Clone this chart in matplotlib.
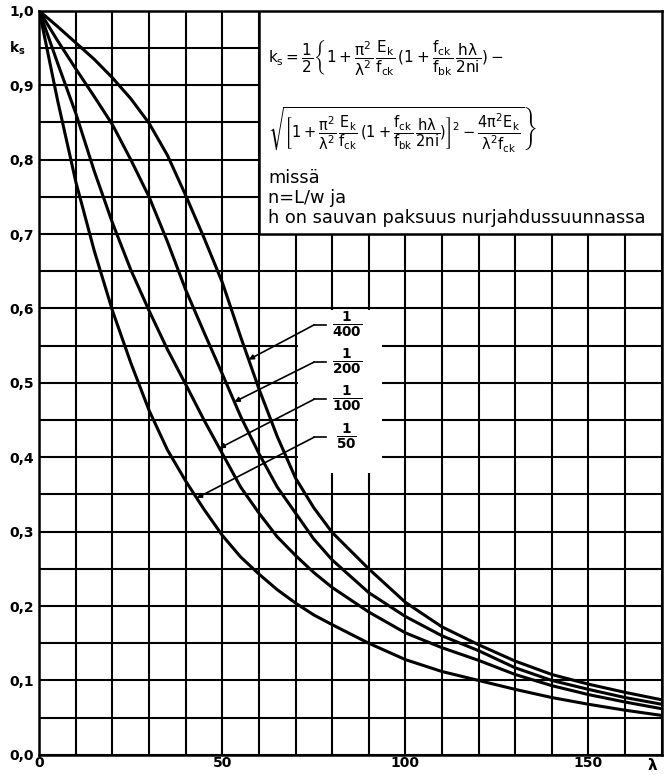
import numpy as np
import matplotlib
matplotlib.use("Agg")
import matplotlib.pyplot as plt
from matplotlib.patches import Rectangle
from matplotlib.ticker import MultipleLocator

# ==========================
# DATA
# ==========================
lam = [0, 5, 10, 15, 20, 25, 30, 35, 40, 45, 50, 55, 60, 65, 70, 75, 80,
       90, 100, 110, 120, 130, 140, 150, 160, 170]

ks_400 = [1.0, 0.979, 0.957, 0.935, 0.91, 0.882, 0.849, 0.806, 0.752, 0.695,
          0.635, 0.562, 0.492, 0.428, 0.372, 0.332, 0.299,
          0.25, 0.205, 0.172, 0.148, 0.126, 0.108, 0.095, 0.084, 0.074]
ks_200 = [1.0, 0.96, 0.922, 0.885, 0.847, 0.8, 0.75, 0.69, 0.625, 0.568,
          0.512, 0.455, 0.405, 0.36, 0.325, 0.29, 0.262,
          0.218, 0.186, 0.16, 0.14, 0.117, 0.1, 0.088, 0.077, 0.068]
ks_100 = [1.0, 0.93, 0.862, 0.785, 0.715, 0.652, 0.597, 0.545, 0.498, 0.45,
          0.405, 0.36, 0.325, 0.293, 0.268, 0.245, 0.225,
          0.192, 0.164, 0.144, 0.127, 0.108, 0.093, 0.081, 0.071, 0.062]
ks_50 = [1.0, 0.88, 0.77, 0.678, 0.597, 0.527, 0.463, 0.41, 0.368, 0.33,
         0.295, 0.266, 0.243, 0.222, 0.204, 0.188, 0.175,
         0.15, 0.128, 0.112, 0.1, 0.088, 0.077, 0.068, 0.06, 0.053]

curve_names = ["400", "200", "100", "50"]
curve_values = [ks_400, ks_200, ks_100, ks_50]

# where the leader lines touch the curves, and the label rows
tip_lam = [57.2, 53.3, 49.2, 43.0]
label_ks = [0.578, 0.528, 0.478, 0.427]

x_labels = ["0", "50", "100", "150"]
y_labels = ["0,0", "0,1", "0,2", "0,3", "0,4", "0,5", "0,6", "0,7", "0,8", "0,9", "1,0"]

# ==========================
# FIGURE
# ==========================
plt.rcParams["mathtext.fontset"] = "dejavusans"
plt.rcParams["mathtext.default"] = "regular"

fig = plt.figure(figsize=(6.65, 7.75), dpi=100)
ax = fig.add_axes([0.059, 0.026, 0.936, 0.960])

ax.set_xlim(0, 170)
ax.set_ylim(0, 1.0)

ax.xaxis.set_major_locator(MultipleLocator(50))
ax.xaxis.set_minor_locator(MultipleLocator(10))
ax.yaxis.set_major_locator(MultipleLocator(0.1))
ax.yaxis.set_minor_locator(MultipleLocator(0.05))
ax.grid(True, which="both", color="black", linewidth=1.5, zorder=1)
ax.set_axisbelow(True)

ax.tick_params(which="both", length=0)
ax.set_xticks(np.arange(0, 151, 50))
ax.set_xticklabels(x_labels, fontsize=10, fontweight="bold")
ax.set_yticks(np.arange(0, 1.01, 0.1))
ax.set_yticklabels(y_labels, fontsize=10, fontweight="bold")
ax.tick_params(axis="x", pad=1)
ax.tick_params(axis="y", pad=4)

for s in ax.spines.values():
    s.set_linewidth(1.8)

ax.text(-0.035, 0.95, "k$_s$", transform=ax.get_yaxis_transform(),
        ha="center", va="center", fontsize=10, fontweight="bold")
ax.text(169, -0.003, r"$\lambda$", ha="right", va="top", fontsize=11,
        fontweight="bold")

# ==========================
# CURVES
# ==========================
for vals in curve_values:
    ax.plot(lam, vals, color="black", linewidth=2.2, zorder=3,
            solid_capstyle="round", solid_joinstyle="round")

# ==========================
# FORMULA BOX
# ==========================
ax.add_patch(Rectangle((60, 0.7), 110, 0.3, facecolor="white",
                       edgecolor="black", linewidth=1.8, zorder=4))

line1 = (r"$k_s = \dfrac{1}{2}\left\{1 + \dfrac{\pi^2}{\lambda^2}\,\dfrac{E_k}{f_{ck}}\,"
         r"(1+\dfrac{f_{ck}}{f_{bk}}\,\dfrac{h\lambda}{2ni}) - \right.$")
line2 = (r"$\left.\sqrt{\left[1 + \dfrac{\pi^2}{\lambda^2}\,\dfrac{E_k}{f_{ck}}\,"
         r"(1+\dfrac{f_{ck}}{f_{bk}}\,\dfrac{h\lambda}{2ni})\right]^2"
         r" - \dfrac{4\pi^2E_k}{\lambda^2 f_{ck}}}\right\}$")
ax.text(62.5, 0.937, line1, fontsize=11, ha="left", va="center", zorder=5)
ax.text(62.5, 0.84, line2, fontsize=10.5, ha="left", va="center", zorder=5)
ax.text(62.5, 0.776, "missä", fontsize=12.8, ha="left", va="center", zorder=5)
ax.text(62.5, 0.749, "n=L/w ja", fontsize=12.8, ha="left", va="center", zorder=5)
ax.text(62.5, 0.722, "h on sauvan paksuus nurjahdussuunnassa", fontsize=12.8,
        ha="left", va="center", zorder=5)

# ==========================
# CURVE LABELS
# ==========================
ax.add_patch(Rectangle((70.7, 0.379), 22.8, 0.219, facecolor="white",
                       edgecolor="none", zorder=2))

for name, vals, tx, ly in zip(curve_names, curve_values, tip_lam, label_ks):
    ty = np.interp(tx, lam, vals)
    ax.plot([78.2, 75.1], [ly, ly], color="black", linewidth=1.2, zorder=5)
    ax.annotate("", xy=(tx, ty), xytext=(75.1, ly),
                arrowprops=dict(arrowstyle="-|>", color="black", lw=1.2,
                                mutation_scale=7, shrinkA=0, shrinkB=0),
                zorder=5)
    ax.text(84, ly, r"$\mathbf{\frac{1}{%s}}$" % name, fontsize=14,
            ha="center", va="center", zorder=5)

fig.savefig("out.png", dpi=100)
